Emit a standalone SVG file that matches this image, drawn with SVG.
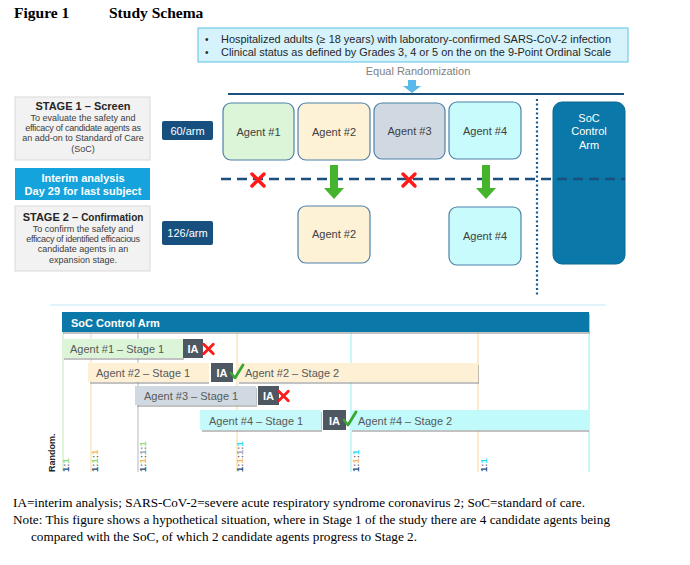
<svg xmlns="http://www.w3.org/2000/svg" width="690" height="565" viewBox="0 0 690 565">
<style>
.tnr{font-family:"Liberation Serif","Times New Roman",serif;fill:#000}
.sans{font-family:"Liberation Sans",Arial,sans-serif}
.agent{stroke:#4f81a8;stroke-width:1.2}
.agtxt{font-family:"Liberation Sans",Arial,sans-serif;font-size:11px;fill:#404040;text-anchor:middle}
.bar{font-family:"Liberation Sans",Arial,sans-serif;font-size:11px;fill:#595959}
.ia{fill:#4d5863}
.iatxt{font-family:"Liberation Sans",Arial,sans-serif;font-size:11px;font-weight:bold;fill:#fff;text-anchor:middle}
.shadow{fill:#9a9a9a;opacity:0.6}
.grid{stroke-width:1.5}
.ratio{font-family:"Liberation Sans",Arial,sans-serif;font-size:9.5px;font-weight:bold}
.small{font-family:"Liberation Sans",Arial,sans-serif;font-size:9px;fill:#404040;text-anchor:middle}
</style>
<defs>
<g id="redx"><path d="M-6,-6 L6,6 M6,-6 L-6,6" stroke="#ff1a1a" stroke-width="3.5" stroke-linecap="round"/></g>
<g id="check"><path d="M-6,1 L-2,6 L6,-7" stroke="#3aa635" stroke-width="2.8" fill="none" stroke-linecap="round" stroke-linejoin="round"/></g>
<g id="garrow"><polygon points="-4,0 4,0 4,23 10,23 0,34 -10,23 -4,23" fill="#46b32d"/></g>
</defs>
<rect width="690" height="565" fill="#fff"/>

<text class="tnr" x="14" y="18" font-size="15.5" font-weight="bold">Figure 1</text>
<text class="tnr" x="109" y="18" font-size="15.5" font-weight="bold">Study Schema</text>

<g id="criteria">
<rect x="198" y="28" width="430" height="34" fill="#d6f2fb" stroke="#5bc3e6" stroke-width="1"/>
<text class="sans" x="205" y="43" font-size="10" fill="#262626">•</text>
<text class="sans" x="205" y="56" font-size="10" fill="#262626">•</text>
<text class="sans" x="221" y="43" font-size="10.5" fill="#262626" textLength="390" lengthAdjust="spacingAndGlyphs">Hospitalized adults (≥ 18 years) with laboratory-confirmed  SARS-CoV-2 infection</text>
<text class="sans" x="221" y="56" font-size="10.5" fill="#262626" textLength="390" lengthAdjust="spacingAndGlyphs">Clinical status as defined by Grades 3, 4 or 5 on the on the 9-Point Ordinal Scale</text>
</g>
<g id="randomization">
<text class="sans" x="418" y="75" font-size="11" fill="#7f7f7f" text-anchor="middle">Equal Randomization</text>
<polygon points="408,80 416,80 416,86 421,86 412,93 403,86 408,86" fill="#5bb8ea"/>
</g>

<g id="stage1">
<rect x="15" y="97" width="135" height="63" fill="#f2f2f2" stroke="#d9d9d9"/>
<text class="sans" x="83" y="110" font-size="11" font-weight="bold" fill="#262626" text-anchor="middle">STAGE 1 – Screen</text>
<text class="small" x="83" y="121">To evaluate the safety and</text>
<text class="small" x="83" y="131" letter-spacing="-0.25">efficacy of candidate agents as</text>
<text class="small" x="83" y="141">an add-on to Standard of Care</text>
<text class="small" x="83" y="152">(SoC)</text>
</g>
<g id="n60">
<rect x="162" y="121" width="51" height="19" rx="2" fill="#17507f"/>
<text class="sans" x="187.5" y="134.5" font-size="11" fill="#fff" text-anchor="middle">60/arm</text>
</g>
<g id="interim">
<rect x="15" y="168" width="135" height="32" fill="#14a3dc"/>
<text class="sans" x="83" y="182" font-size="11" font-weight="bold" fill="#fff" text-anchor="middle">Interim analysis</text>
<text class="sans" x="83" y="195" font-size="11" font-weight="bold" fill="#fff" text-anchor="middle">Day 29 for last subject</text>
</g>
<g id="stage2">
<rect x="15" y="206" width="135" height="65" fill="#f2f2f2" stroke="#d9d9d9"/>
<text class="sans" x="83" y="221" font-weight="bold" fill="#262626" text-anchor="middle"><tspan font-size="11">STAGE 2 – </tspan><tspan font-size="10">Confirmation</tspan></text>
<text class="small" x="83" y="232">To confirm the safety and</text>
<text class="small" x="83" y="242" letter-spacing="-0.3">efficacy of identified efficacious</text>
<text class="small" x="83" y="252">candidate agents in an</text>
<text class="small" x="83" y="263">expansion stage.</text>
</g>
<g id="n126">
<rect x="162" y="221" width="51" height="24" rx="2" fill="#17507f"/>
<text class="sans" x="187.5" y="237" font-size="11" fill="#fff" text-anchor="middle">126/arm</text>
</g>

<g id="agent1"><rect class="agent" x="223" y="103" width="71" height="57" rx="8" fill="#dcf5d8"/><text class="agtxt" x="258.5" y="136">Agent #1</text></g>
<g id="agent2"><rect class="agent" x="298" y="103" width="72" height="57" rx="8" fill="#fdf1d6"/><text class="agtxt" x="334" y="136">Agent #2</text></g>
<g id="agent3"><rect class="agent" x="374" y="103" width="71" height="56" rx="8" fill="#d0d9e1"/><text class="agtxt" x="409.5" y="135">Agent #3</text></g>
<g id="agent4"><rect class="agent" x="449" y="102" width="72" height="57" rx="8" fill="#c8fbfb"/><text class="agtxt" x="485" y="135">Agent #4</text></g>
<g id="agent2b"><rect class="agent" x="298" y="206" width="72" height="57" rx="8" fill="#fdf1d6"/><text class="agtxt" x="334" y="238">Agent #2</text></g>
<g id="agent4b"><rect class="agent" x="449" y="207" width="72" height="58" rx="8" fill="#c8fbfb"/><text class="agtxt" x="485" y="240">Agent #4</text></g>
<g id="soc">
<rect x="553" y="102" width="72" height="162" rx="9" fill="#0a78a8" stroke="#0a6890"/>
<text class="sans" x="589" y="122" font-size="11" fill="#fff" text-anchor="middle">SoC</text>
<text class="sans" x="589" y="135" font-size="11" fill="#fff" text-anchor="middle">Control</text>
<text class="sans" x="589" y="149" font-size="11" fill="#fff" text-anchor="middle">Arm</text>
</g>

<g id="connectors">
<line x1="228" y1="94" x2="624" y2="94" stroke="#1b4f7e" stroke-width="2"/>
<line x1="221" y1="179" x2="625" y2="179" stroke="#1b4f7e" stroke-width="2.5" stroke-dasharray="10,6"/>
<line x1="537" y1="99" x2="537" y2="296" stroke="#1b5a8e" stroke-width="2.2" stroke-dasharray="2,2.5"/>
<use href="#redx" x="258" y="180"/>
<use href="#redx" x="409" y="180"/>
<use href="#garrow" x="334" y="165"/>
<use href="#garrow" x="486" y="165"/>
</g>

<g id="timeline">
<line x1="50" y1="305" x2="606" y2="305" stroke="#bfeaf7" stroke-width="1"/>
<line class="grid" x1="63" y1="332" x2="63" y2="472" stroke="#d5f0cf"/>
<line class="grid" x1="91" y1="332" x2="91" y2="472" stroke="#fbe6c6"/>
<line class="grid" x1="138" y1="332" x2="138" y2="472" stroke="#c7d0d8"/>
<line class="grid" x1="237" y1="332" x2="237" y2="472" stroke="#fbe3bd"/>
<line class="grid" x1="351" y1="332" x2="351" y2="472" stroke="#b8f5f7"/>
<line class="grid" x1="478" y1="332" x2="478" y2="472" stroke="#fbe3bd"/>
<line class="grid" x1="589" y1="332" x2="589" y2="472" stroke="#b8f5f7"/>
<rect class="shadow" x="63" y="314" width="527" height="20"/>
<rect x="62" y="312" width="527" height="20" fill="#0a78a8"/>
<text class="sans" x="71" y="327" font-size="11" font-weight="bold" fill="#fff">SoC Control Arm</text>

<rect class="shadow" x="64" y="341" width="120" height="19"/>
<rect x="62" y="339" width="121" height="19" fill="#dcf5d8"/>
<text class="bar" x="70" y="353">Agent #1 – Stage 1</text>
<rect class="ia" x="183" y="339" width="20" height="19"/>
<text class="iatxt" x="193" y="353">IA</text>

<rect class="shadow" x="90" y="365" width="119" height="19"/>
<rect x="88" y="363" width="121" height="19" fill="#fdf0d5"/>
<text class="bar" x="96" y="377">Agent #2 – Stage 1</text>
<rect class="ia" x="211" y="363" width="22" height="19"/>
<text class="iatxt" x="222" y="377">IA</text>
<rect class="shadow" x="239" y="365" width="240" height="19"/>
<rect x="237" y="363" width="241" height="19" fill="#fdf0d5"/>
<text class="bar" x="245" y="377">Agent #2 – Stage 2</text>

<rect class="shadow" x="137" y="388" width="120" height="19"/>
<rect x="135" y="386" width="121" height="19" fill="#d0d9e1"/>
<text class="bar" x="144" y="400">Agent #3 – Stage 1</text>
<rect class="ia" x="258" y="386" width="21" height="19"/>
<text class="iatxt" x="268.5" y="400">IA</text>

<rect class="shadow" x="202" y="412" width="120" height="20"/>
<rect x="200" y="410" width="121" height="20" fill="#c6fafa"/>
<text class="bar" x="209" y="425">Agent #4 – Stage 1</text>
<rect class="ia" x="323" y="410" width="23" height="20"/>
<text class="iatxt" x="334.5" y="425">IA</text>
<rect class="shadow" x="352" y="412" width="237" height="20"/>
<rect x="350" y="410" width="239" height="20" fill="#c0fafa"/>
<text class="bar" x="358" y="425">Agent #4 – Stage 2</text>

<use href="#redx" transform="translate(208.5 349) scale(0.8)"/>
<use href="#redx" transform="translate(283.5 396) scale(0.8)"/>
<use href="#check" x="237" y="372"/>
<use href="#check" x="350" y="419"/>

<text class="sans" transform="translate(55 472) rotate(-90)" font-size="9" font-weight="bold" fill="#262626">Random.</text>
<text class="ratio" transform="translate(69 472) rotate(-90)"><tspan fill="#1b4f7e">1</tspan><tspan fill="#666">:</tspan><tspan fill="#8edb7c">1</tspan></text>
<text class="ratio" transform="translate(98 472) rotate(-90)"><tspan fill="#1b4f7e">1</tspan><tspan fill="#666">:</tspan><tspan fill="#8edb7c">1</tspan><tspan fill="#666">:</tspan><tspan fill="#f5b860">1</tspan></text>
<text class="ratio" transform="translate(146 472) rotate(-90)"><tspan fill="#1b4f7e">1</tspan><tspan fill="#666">:</tspan><tspan fill="#f5b860">1</tspan><tspan fill="#666">:</tspan><tspan fill="#98a6b4">1</tspan><tspan fill="#666">:</tspan><tspan fill="#8edb7c">1</tspan></text>
<text class="ratio" transform="translate(243 472) rotate(-90)"><tspan fill="#1b4f7e">1</tspan><tspan fill="#666">:</tspan><tspan fill="#f5b860">1</tspan><tspan fill="#666">:</tspan><tspan fill="#98a6b4">1</tspan><tspan fill="#666">:</tspan><tspan fill="#22dcee">1</tspan></text>
<text class="ratio" transform="translate(359 472) rotate(-90)"><tspan fill="#1b4f7e">1</tspan><tspan fill="#666">:</tspan><tspan fill="#f5b860">1</tspan><tspan fill="#666">:</tspan><tspan fill="#22dcee">1</tspan></text>
<text class="ratio" transform="translate(487 472) rotate(-90)"><tspan fill="#1b4f7e">1</tspan><tspan fill="#666">:</tspan><tspan fill="#22dcee">1</tspan></text>
</g>

<g id="footnotes">
<text class="tnr" x="13" y="507" font-size="12.5" textLength="572" lengthAdjust="spacingAndGlyphs">IA=interim analysis; SARS-CoV-2=severe acute respiratory syndrome coronavirus 2; SoC=standard of care.</text>
<text class="tnr" x="13" y="524" font-size="12.5" textLength="597" lengthAdjust="spacingAndGlyphs">Note: This figure shows a hypothetical situation, where in Stage 1 of the study there are 4 candidate agents being</text>
<text class="tnr" x="31" y="541" font-size="12.5" textLength="386" lengthAdjust="spacingAndGlyphs">compared with the SoC, of which 2 candidate agents progress to Stage 2.</text>
</g>
</svg>
